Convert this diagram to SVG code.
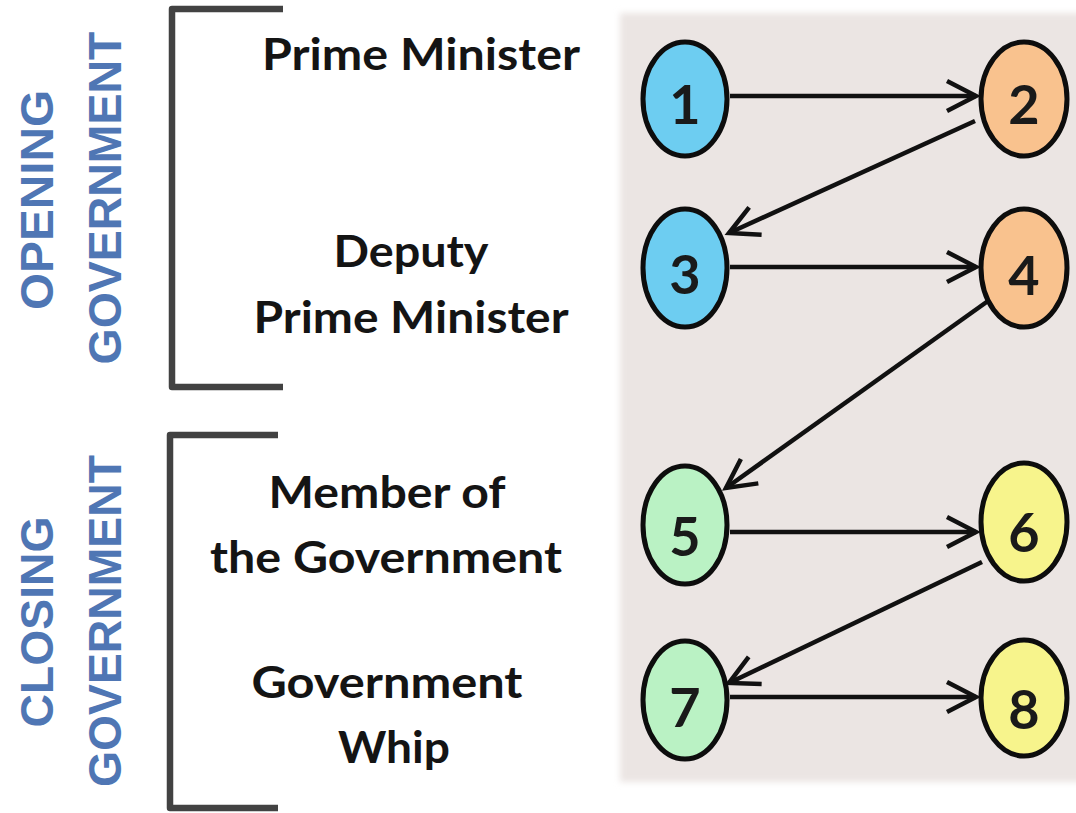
<svg xmlns="http://www.w3.org/2000/svg" width="1076" height="813" viewBox="0 0 1076 813">
<defs>
<style>
.lbl{font-family:"Lato","Liberation Sans",sans-serif;font-weight:bold;font-size:44px;fill:#141414;text-anchor:middle}
.side{font-family:"Liberation Sans","Arial",sans-serif;font-weight:bold;font-size:47px;fill:#4f76b4;text-anchor:middle}
.num{font-family:"Lato","Liberation Sans",sans-serif;font-weight:bold;font-size:54px;fill:#1a1a1a;text-anchor:middle}
.node{stroke:#0d0d0d;stroke-width:5}
.blue{fill:#6dcdf1}.orange{fill:#f9c28e}.green{fill:#baf2c4}.yellow{fill:#f7f48c}
.br{fill:none;stroke:#424242;stroke-width:6.5;stroke-linejoin:round}
.conn{stroke:#111;stroke-width:4.5;fill:none}
</style>
<marker id="arr" viewBox="-36 -22 42 44" refX="0" refY="0" markerWidth="42" markerHeight="44" markerUnits="userSpaceOnUse" orient="auto">
<path d="M-29,-15 L0,0 L-29,15" fill="none" stroke="#111" stroke-width="4.5"/>
</marker>
<filter id="soft" x="-5%" y="-5%" width="110%" height="110%"><feGaussianBlur stdDeviation="3"/></filter>
</defs>
<rect width="1076" height="813" fill="#ffffff"/>
<rect id="panel" x="620" y="13" width="470" height="769" fill="#ebe5e3" filter="url(#soft)"/>

<g id="brackets">
<path class="br" d="M283,9 H172 V387 H283"/>
<path class="br" d="M278,435 H170 V808 H278"/>
</g>

<g id="side-labels">
<text class="side" transform="translate(53,200) rotate(-90)" textLength="220" lengthAdjust="spacingAndGlyphs">OPENING</text>
<text class="side" transform="translate(121,198) rotate(-90)" textLength="333" lengthAdjust="spacingAndGlyphs">GOVERNMENT</text>
<text class="side" transform="translate(53,622) rotate(-90)" textLength="211" lengthAdjust="spacingAndGlyphs">CLOSING</text>
<text class="side" transform="translate(121,621) rotate(-90)" textLength="332" lengthAdjust="spacingAndGlyphs">GOVERNMENT</text>
</g>

<g id="role-labels">
<text class="lbl" x="421" y="70" textLength="318" lengthAdjust="spacingAndGlyphs">Prime Minister</text>
<text class="lbl" x="411" y="267" textLength="155" lengthAdjust="spacingAndGlyphs">Deputy</text>
<text class="lbl" x="411" y="333" textLength="315" lengthAdjust="spacingAndGlyphs">Prime Minister</text>
<text class="lbl" x="387" y="508" textLength="237" lengthAdjust="spacingAndGlyphs">Member of</text>
<text class="lbl" x="386" y="573" textLength="352" lengthAdjust="spacingAndGlyphs">the Government</text>
<text class="lbl" x="387" y="698" textLength="271" lengthAdjust="spacingAndGlyphs">Government</text>
<text class="lbl" x="394" y="763" textLength="112" lengthAdjust="spacingAndGlyphs">Whip</text>
</g>

<g id="connectors">
<line class="conn" x1="730" y1="96" x2="976" y2="96" marker-end="url(#arr)"/>
<line class="conn" x1="975" y1="121" x2="729" y2="233" marker-end="url(#arr)"/>
<line class="conn" x1="730" y1="267" x2="976" y2="267" marker-end="url(#arr)"/>
<line class="conn" x1="988" y1="301" x2="726" y2="488" marker-end="url(#arr)"/>
<line class="conn" x1="730" y1="532" x2="976" y2="532" marker-end="url(#arr)"/>
<line class="conn" x1="982" y1="562" x2="729" y2="683" marker-end="url(#arr)"/>
<line class="conn" x1="730" y1="697" x2="976" y2="697" marker-end="url(#arr)"/>
</g>

<g id="node1"><ellipse class="node blue" cx="685" cy="99" rx="42" ry="57"/><text class="num" x="685" y="124">1</text></g>
<g id="node2"><ellipse class="node orange" cx="1024" cy="99" rx="43" ry="57"/><text class="num" x="1024" y="124">2</text></g>
<g id="node3"><ellipse class="node blue" cx="685" cy="268" rx="42" ry="59"/><text class="num" x="685" y="294">3</text></g>
<g id="node4"><ellipse class="node orange" cx="1024" cy="268" rx="43" ry="59"/><text class="num" x="1024" y="295">4</text></g>
<g id="node5"><ellipse class="node green" cx="685" cy="525" rx="42" ry="59"/><text class="num" x="685" y="556">5</text></g>
<g id="node6"><ellipse class="node yellow" cx="1024" cy="522" rx="43" ry="59"/><text class="num" x="1024" y="552">6</text></g>
<g id="node7"><ellipse class="node green" cx="685" cy="700" rx="42" ry="59"/><text class="num" x="685" y="727">7</text></g>
<g id="node8"><ellipse class="node yellow" cx="1024" cy="698" rx="43" ry="58"/><text class="num" x="1024" y="729">8</text></g>
</svg>
